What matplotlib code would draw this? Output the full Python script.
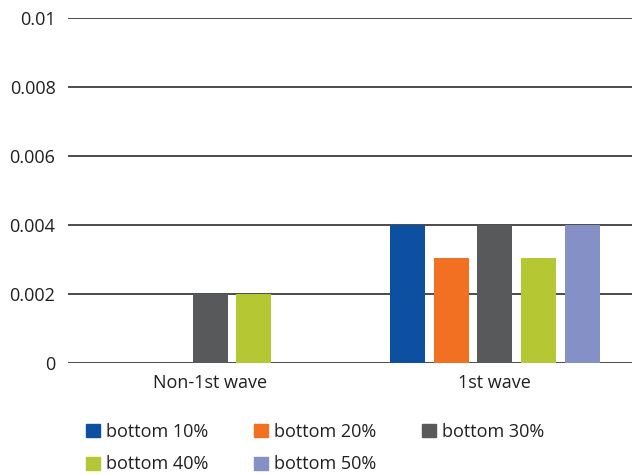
import matplotlib.pyplot as plt
import numpy as np
from matplotlib.patches import Patch

categories = ['Non-1st wave', '1st wave']
series = ['bottom 10%', 'bottom 20%', 'bottom 30%', 'bottom 40%', 'bottom 50%']
values = [
	[0.0, 0.004],
	[0.0, 0.00305],
	[0.002, 0.004],
	[0.002, 0.00305],
	[0.0, 0.004],
]
colors = ['#0d4fa0', '#f27022', '#58595b', '#b5c733', '#8591c6']
yticks = [0, 0.002, 0.004, 0.006, 0.008, 0.01]
ytick_labels = ['0', '0.002', '0.004', '0.006', '0.008', '0.01']

plt.rcParams['font.family'] = ['Open Sans', 'DejaVu Sans']
text_color = '#231f20'


def main():
	fig = plt.figure(figsize=(6.32, 4.75), dpi=100)
	ax = fig.add_axes([68 / 632, (475 - 363.3) / 475, 569 / 632, (363.3 - 18) / 475])

	x = np.arange(len(categories))
	step = 0.1535
	width = 0.123
	for i, name in enumerate(series):
		offs = (i - 2) * step
		vals = np.array(values[i])
		mask = vals > 0
		ax.bar(x[mask] + offs, vals[mask], width=width, color=colors[i], zorder=3)

	ax.set_xlim(-0.5, 1.5)
	ax.set_ylim(0, 0.01)
	ax.set_yticks(yticks)
	ax.set_yticklabels(ytick_labels)
	ax.set_xticks(x)
	ax.set_xticklabels(categories)
	ax.grid(axis='y', color='#1a1a1a', linewidth=1.1, zorder=1)
	for s in ax.spines.values():
		s.set_visible(False)
	ax.tick_params(axis='both', length=0, labelsize=13, colors=text_color, pad=8)
	ax.tick_params(axis='y', pad=9)

	# legend, reordered so it fills row by row
	order = [0, 3, 1, 4, 2]
	handles = [Patch(color=colors[i]) for i in order]
	labels = [series[i] for i in order]
	fig.legend(handles, labels, ncol=3, loc='upper left', bbox_to_anchor=(86 / 632, 1 - 423 / 475),
		frameon=False, fontsize=13, handlelength=0.75, handleheight=0.75, handletextpad=0.35,
		columnspacing=2.55, labelspacing=0.8, labelcolor=text_color, borderaxespad=0, borderpad=0)

	fig.savefig('out.png', dpi=100)


if __name__ == '__main__':
	main()
